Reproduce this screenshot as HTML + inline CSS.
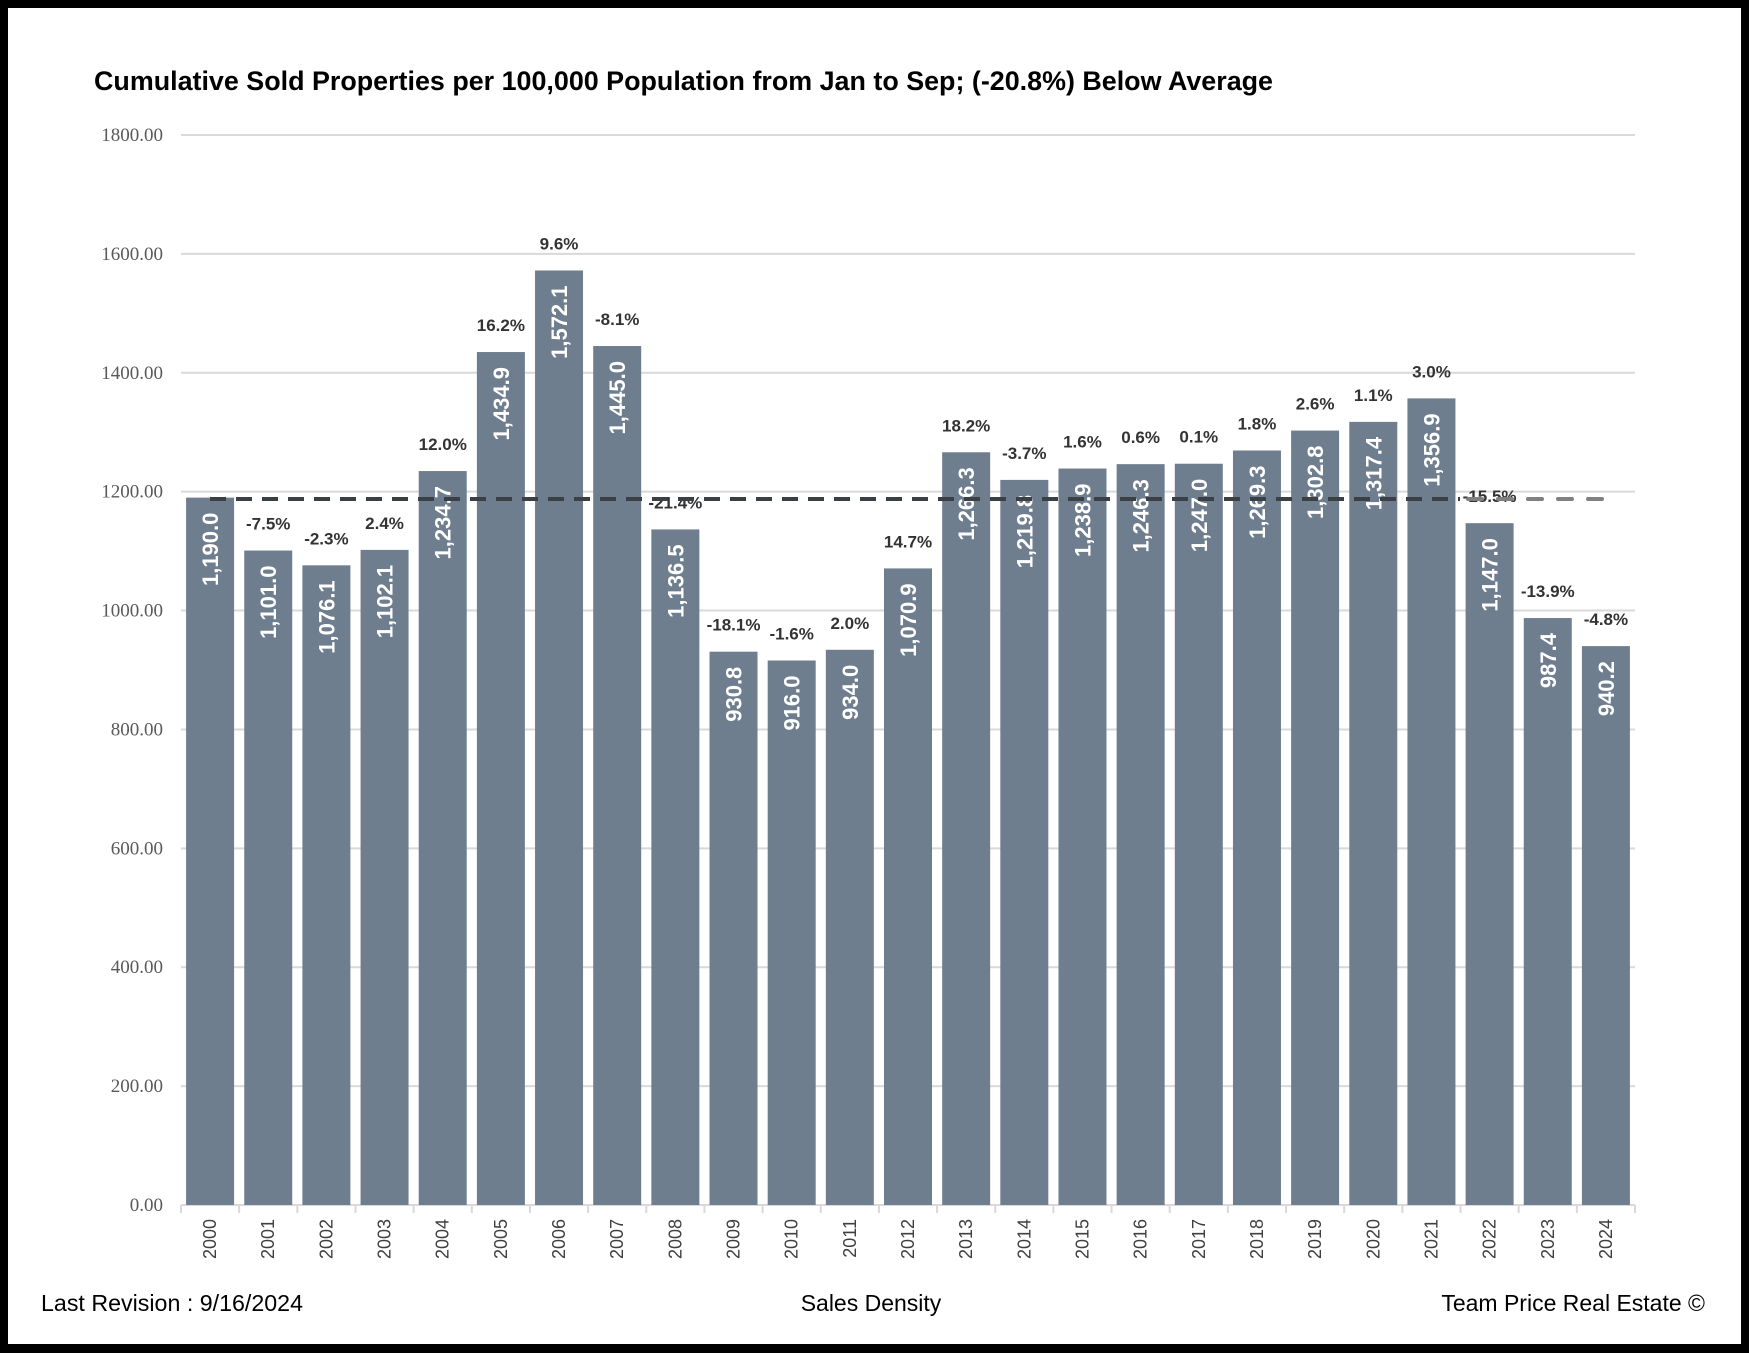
<!DOCTYPE html>
<html><head><meta charset="utf-8"><style>
html,body{margin:0;padding:0;background:#000;}
svg{display:block;}
</style></head><body>
<svg width="1749" height="1353" xmlns="http://www.w3.org/2000/svg">
<rect x="0" y="0" width="1749" height="1353" fill="#000"/>
<rect x="8" y="8" width="1733" height="1336" fill="#fff"/>
<text x="94" y="90" font-family="Liberation Sans, sans-serif" font-weight="bold" font-size="27" fill="#000" textLength="1179" lengthAdjust="spacingAndGlyphs">Cumulative Sold Properties per 100,000 Population from Jan to Sep; (-20.8%) Below Average</text>
<g id="grid" stroke="#d9d9d9" stroke-width="2"></g>
<g id="bars"></g>
<g id="labels"></g>
<text x="41" y="1311" font-family="Liberation Sans, sans-serif" font-size="23" fill="#000" textLength="262" lengthAdjust="spacingAndGlyphs">Last Revision : 9/16/2024</text>
<text x="871" y="1311" text-anchor="middle" font-family="Liberation Sans, sans-serif" font-size="23" fill="#000">Sales Density</text>
<text x="1705" y="1311" text-anchor="end" font-family="Liberation Sans, sans-serif" font-size="23" fill="#000">Team Price Real Estate ©</text>
<script>
const NS="http://www.w3.org/2000/svg";
function el(t,a,p,txt){const e=document.createElementNS(NS,t);for(const k in a)e.setAttribute(k,a[k]);if(txt!==undefined)e.textContent=txt;p.appendChild(e);return e;}
const g=document.getElementById('grid'),b=document.getElementById('bars'),l=document.getElementById('labels');
const y0=1205,k=0.59444,x0=181,x1=1635;
for(let v=0;v<=1800;v+=200){const y=y0-v*k;
 if(v>0)el('line',{x1:x0,x2:x1,y1:y,y2:y},g);
 el('text',{x:163,y:y+6,'text-anchor':'end','font-family':'Liberation Serif, serif','font-size':19,fill:'#595959'},l,v.toFixed(2));}
el('line',{x1:x0,x2:x1,y1:y0,y2:y0,stroke:'#d9d9d9','stroke-width':2},g);
const vals=[1190.0,1101.0,1076.1,1102.1,1234.7,1434.9,1572.1,1445.0,1136.5,930.8,916.0,934.0,1070.9,1266.3,1219.8,1238.9,1246.3,1247.0,1269.3,1302.8,1317.4,1356.9,1147.0,987.4,940.2];
const pct=['','-7.5%','-2.3%','2.4%','12.0%','16.2%','9.6%','-8.1%','-21.4%','-18.1%','-1.6%','2.0%','14.7%','18.2%','-3.7%','1.6%','0.6%','0.1%','1.8%','2.6%','1.1%','3.0%','-15.5%','-13.9%','-4.8%'];
const w=(x1-x0)/25;
for(let i=0;i<=25;i++){const x=x0+i*w;el('line',{x1:x,x2:x,y1:y0,y2:y0+8,stroke:'#d9d9d9','stroke-width':2},g);}
vals.forEach((v,i)=>{const c=x0+w*(i+0.5),t=y0-v*k;
 el('rect',{x:c-24,y:t,width:48,height:y0-t,fill:'#6f7e8f'},b);
 const s=v.toLocaleString('en-US',{minimumFractionDigits:1,maximumFractionDigits:1});
 el('text',{x:0,y:0,transform:`translate(${c+8},${t+15}) rotate(-90)`,'text-anchor':'end','font-family':'Liberation Sans, sans-serif','font-weight':'bold','font-size':22,fill:'#fff'},l,s);
 if(pct[i])el('text',{x:c,y:t-21,'text-anchor':'middle','font-family':'Liberation Sans, sans-serif','font-weight':'bold','font-size':17,fill:'#333'},l,pct[i]);
 el('text',{x:0,y:0,transform:`translate(${c+6},${1219}) rotate(-90)`,'text-anchor':'end','font-family':'Liberation Sans, sans-serif','font-size':18,fill:'#404040'},l,String(2000+i));
});
el('line',{x1:210,x2:1460,y1:499,y2:499,stroke:'#3b4045','stroke-width':4,'stroke-dasharray':'16 10'},l);
el('line',{x1:1468,x2:1608,y1:499,y2:499,stroke:'#808080','stroke-width':4,'stroke-dasharray':'14 16','stroke-linecap':'round'},l);
</script>
</svg>
</body></html>
